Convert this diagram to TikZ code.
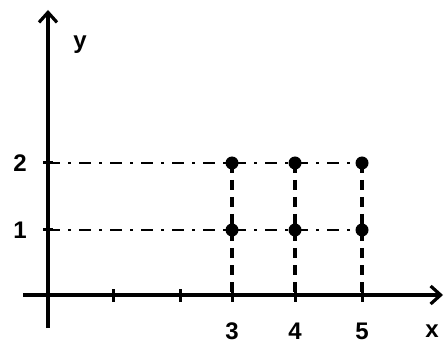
\documentclass[tikz,border=0pt]{standalone}
\usepackage{fontspec}
\setmainfont{Liberation Sans}
\usetikzlibrary{arrows.meta}
\begin{document}
\begin{tikzpicture}[x=1pt,y=-1pt,
  axis/.style={line width=3.4pt,-{Straight Barb[length=10pt,width=18pt,line width=3.2pt]}},
  guide/.style={line width=2.6pt,dash pattern=on 12pt off 8pt on 3pt off 8pt},
  vguide/.style={line width=3.2pt,dash pattern=on 10pt off 7pt},
  pt/.style={circle,fill=black,inner sep=0pt,minimum size=13pt},
  lbl/.style={font=\fontsize{24}{26}\selectfont\bfseries,inner sep=0pt},
  tickmark/.style={line width=3pt}]
\useasboundingbox (0,0) rectangle (444,347);
% axes
\coordinate (xs) at (23,295);
\coordinate (xe) at (443,295);
\coordinate (ys) at (48,328);
\coordinate (ye) at (48,10);
\draw[axis] (xs) -- (xe);
\draw[axis] (ys) -- (ye);
% ticks
\foreach \n/\x in {t1/113,t2/180,t3/232,t4/295,t5/362}{
  \coordinate (\n) at (\x,295);
  \draw[tickmark] (\x,289) -- (\x,302);
}
\coordinate (y1) at (48,230);
\coordinate (y2) at (48,163);
\draw[tickmark] (43,230) -- (53,230);
\draw[tickmark] (43,163) -- (53,163);
% points
\node[pt] (a2) at (232,163) {};
\node[pt] (b2) at (295,163) {};
\node[pt] (c2) at (362,163) {};
\node[pt] (a1) at (232,230) {};
\node[pt] (b1) at (295,230) {};
\node[pt] (c1) at (362,230) {};
% guides
\draw[guide] (y2) -- (c2.center);
\draw[guide] (y1) -- (c1.center);
\draw[vguide] (a2.center) -- (t3);
\draw[vguide] (b2.center) -- (t4);
\draw[vguide] (c2.center) -- (t5);
% labels
\node[lbl] (ly) at (80,45) {y};
\node[lbl] (lx) at (432,331) {x};
\node[lbl] (l2) at (20,163) {2};
\node[lbl] (l1) at (20,230) {1};
\node[lbl] (l3) at (232,331) {3};
\node[lbl] (l4) at (295,331) {4};
\node[lbl] (l5) at (362,331) {5};
\end{tikzpicture}
\end{document}
